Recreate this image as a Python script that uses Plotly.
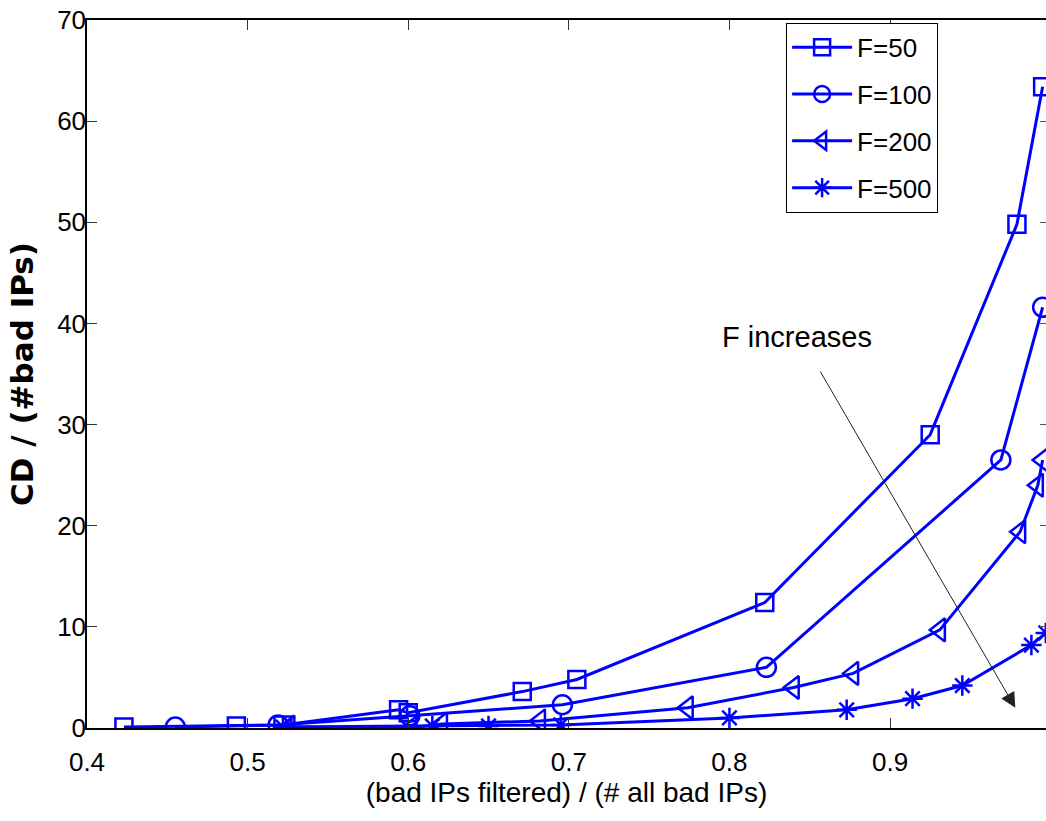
import plotly.graph_objects as go

# ---- data ----
x_f50 = [0.423, 0.493, 0.522, 0.594, 0.600, 0.671, 0.705, 0.822, 0.925, 0.979, 0.995]
y_f50 = [0.1, 0.2, 0.3, 1.8, 1.5, 3.6, 4.8, 12.4, 29.0, 49.8, 63.4]

x_f100 = [0.455, 0.519, 0.601, 0.696, 0.823, 0.969, 0.995]
y_f100 = [0.1, 0.3, 1.2, 2.3, 6.0, 26.5, 41.6]

x_f200 = [0.526, 0.602, 0.621, 0.682, 0.774, 0.840, 0.877, 0.931, 0.981, 0.992, 0.995]
y_f200 = [0.1, 0.0, 0.4, 0.7, 2.0, 4.0, 5.4, 9.7, 19.4, 24.0, 26.5]

x_f500 = [0.522, 0.615, 0.650, 0.695, 0.800, 0.873, 0.914, 0.945, 0.988, 0.997]
y_f500 = [0.1, 0.2, 0.2, 0.3, 1.0, 1.8, 2.9, 4.2, 8.2, 9.4]

names = ["F=50", "F=100", "F=200", "F=500"]
symbols = ["square-open", "circle-open", "triangle-left-open", "asterisk-open"]
sizes = [17, 19, 20, 17]

x_ticks = [0.4, 0.5, 0.6, 0.7, 0.8, 0.9]
y_ticks = [0, 10, 20, 30, 40, 50, 60, 70]

FONT = "Liberation Sans, Arial"
BLUE = "rgb(0,0,255)"

fig = go.Figure()
series = [(x_f50, y_f50), (x_f100, y_f100), (x_f200, y_f200), (x_f500, y_f500)]
for (xs, ys), nm, sym, sz in zip(series, names, symbols, sizes):
    fig.add_trace(go.Scatter(
        x=xs, y=ys, name=nm, mode="lines+markers", legendgroup=nm,
        line=dict(color=BLUE, width=3),
        marker=dict(symbol=sym, size=sz, color=BLUE, line=dict(color=BLUE, width=2.5)),
    ))

# invisible trace to get right-side mirrored ticks without a line
fig.add_trace(go.Scatter(x=[0.5], y=[0], yaxis="y2", showlegend=False,
                         mode="markers", marker=dict(opacity=0), hoverinfo="skip"))

fig.add_annotation(x=0.978, y=2.0, ax=0.856, ay=35.4, xref="x", yref="y",
                   axref="x", ayref="y", showarrow=True, arrowhead=2,
                   arrowsize=3, arrowwidth=1, arrowcolor="#222", text="")
fig.add_annotation(x=0.842, y=38.7, xref="x", yref="y", text="F increases",
                   showarrow=False, font=dict(family=FONT, size=29, color="black"))

fig.update_layout(
    width=1046, height=821,
    margin=dict(l=87, r=0, t=20, b=93),
    paper_bgcolor="white", plot_bgcolor="white",
    font=dict(family=FONT, size=26, color="black"),
    xaxis=dict(range=[0.4, 0.9971], tickvals=x_ticks, ticktext=[str(v) for v in x_ticks],
               ticks="inside", ticklen=10, tickcolor="#333", showline=True, linecolor="black",
               linewidth=1.5, mirror="ticks", showgrid=False, zeroline=False,
               ticklabelstandoff=10,
               title=dict(text="(bad IPs filtered) / (# all bad IPs)", standoff=4,
                          font=dict(family=FONT, size=28))),
    yaxis=dict(range=[0, 70], tickvals=y_ticks, ticks="inside", ticklen=10, tickcolor="#333",
               showline=True, linecolor="black", linewidth=1.5, showgrid=False, zeroline=False,
               ticklabelstandoff=-6,
               title=dict(text="<b>CD / (#bad IPs)</b>", standoff=14,
                          font=dict(family="DejaVu Sans", size=31))),
    yaxis2=dict(range=[0, 70], tickvals=y_ticks, overlaying="y", side="right",
                ticks="inside", ticklen=6, tickcolor="#555", showticklabels=False,
                showline=False, showgrid=False, zeroline=False),
    legend=dict(x=0.729, y=0.996, xanchor="left", yanchor="top",
                bgcolor="white", bordercolor="black", borderwidth=1,
                font=dict(family=FONT, size=26), itemwidth=60,
                tracegroupgap=10, traceorder="grouped"),
    showlegend=True,
)

fig.write_html("out.html")
